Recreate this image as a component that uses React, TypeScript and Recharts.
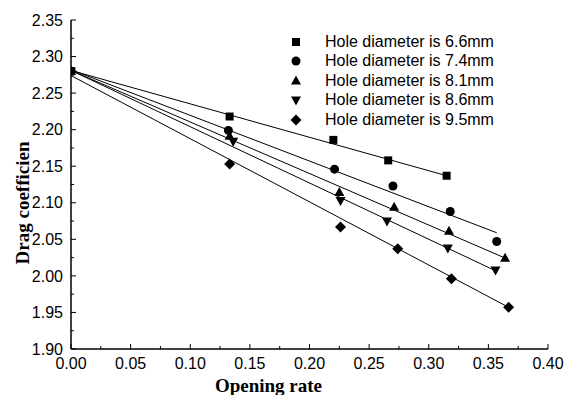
import { ComposedChart, Scatter, XAxis, YAxis, Legend } from 'recharts';

// opening rate / drag coefficient
const rate66 = [0, 0.133, 0.220, 0.266, 0.315];
const drag66 = [2.280, 2.218, 2.186, 2.158, 2.137];
const rate74 = [0, 0.132, 0.221, 0.270, 0.318, 0.357];
const drag74 = [2.280, 2.199, 2.146, 2.123, 2.088, 2.047];
const rate81 = [0, 0.133, 0.225, 0.271, 0.317, 0.364];
const drag81 = [2.280, 2.191, 2.114, 2.094, 2.061, 2.024];
const rate86 = [0, 0.136, 0.226, 0.265, 0.316, 0.356];
const drag86 = [2.280, 2.184, 2.103, 2.075, 2.038, 2.008];
const rate95 = [0, 0.133, 0.226, 0.274, 0.319, 0.367];
const drag95 = [2.280, 2.153, 2.067, 2.037, 1.996, 1.957];

// fitted lines: [start, end]
const fitRate66 = [0, 0.315];
const fitDrag66 = [2.281, 2.137];
const fitRate74 = [0, 0.357];
const fitDrag74 = [2.282, 2.059];
const fitRate81 = [0, 0.366];
const fitDrag81 = [2.281, 2.023];
const fitRate86 = [0, 0.356];
const fitDrag86 = [2.281, 2.007];
const fitRate95 = [0, 0.367];
const fitDrag95 = [2.274, 1.957];

const labels = [
  'Hole diameter is 6.6mm',
  'Hole diameter is 7.4mm',
  'Hole diameter is 8.1mm',
  'Hole diameter is 8.6mm',
  'Hole diameter is 9.5mm',
];

const xTicks = [0, 0.025, 0.05, 0.075, 0.1, 0.125, 0.15, 0.175, 0.2, 0.225, 0.25, 0.275, 0.3, 0.325, 0.35, 0.375, 0.4];
const yTicks = [1.9, 1.925, 1.95, 1.975, 2.0, 2.025, 2.05, 2.075, 2.1, 2.125, 2.15, 2.175, 2.2, 2.225, 2.25, 2.275, 2.3, 2.325, 2.35];

const toPoints = (xs: number[], ys: number[]) => xs.map((x, i) => ({ x, y: ys[i] }));

const series = [
  { kind: 'square', pts: toPoints(rate66, drag66), fit: toPoints(fitRate66, fitDrag66) },
  { kind: 'circle', pts: toPoints(rate74, drag74), fit: toPoints(fitRate74, fitDrag74) },
  { kind: 'up', pts: toPoints(rate81, drag81), fit: toPoints(fitRate81, fitDrag81) },
  { kind: 'down', pts: toPoints(rate86, drag86), fit: toPoints(fitRate86, fitDrag86) },
  { kind: 'diamond', pts: toPoints(rate95, drag95), fit: toPoints(fitRate95, fitDrag95) },
];

const tickFont = '"Liberation Sans", Arial, sans-serif';
const titleFont = '"Liberation Serif", "Times New Roman", serif';

const isMajor = (v: number) => Math.round(v * 1000) % 50 === 0;

function Marker({ cx, cy, kind }: any) {
  if (cx == null || cy == null) return <g />;
  switch (kind) {
    case 'square':
      return <rect x={cx - 4} y={cy - 4} width={8} height={8} fill="#000" />;
    case 'circle':
      return <circle cx={cx} cy={cy} r={4.5} fill="#000" />;
    case 'up':
      return <polygon points={`${cx},${cy - 5.5} ${cx + 5},${cy + 3.5} ${cx - 5},${cy + 3.5}`} fill="#000" />;
    case 'down':
      return <polygon points={`${cx},${cy + 5.5} ${cx + 5},${cy - 3.5} ${cx - 5},${cy - 3.5}`} fill="#000" />;
    default:
      return <polygon points={`${cx},${cy - 5.5} ${cx + 5.5},${cy} ${cx},${cy + 5.5} ${cx - 5.5},${cy}`} fill="#000" />;
  }
}

const BottomTick = (props: any) => {
  const { x, y, payload } = props;
  const v = payload.value;
  const axisY = y - 9;
  return (
    <g>
      <line x1={x} y1={axisY} x2={x} y2={axisY - (isMajor(v) ? 5 : 3)} stroke="#000" />
      {isMajor(v) && (
        <text x={x} y={y} dy="0.71em" textAnchor="middle" fontSize={16} fontFamily={tickFont} fill="#000">
          {v.toFixed(2)}
        </text>
      )}
    </g>
  );
};

const TopTick = (props: any) => {
  const { x, y, payload } = props;
  return <line x1={x} y1={y} x2={x} y2={y + (isMajor(payload.value) ? 5 : 3)} stroke="#000" />;
};

const LeftTick = (props: any) => {
  const { x, y, payload } = props;
  const v = payload.value;
  const axisX = x + 8;
  return (
    <g>
      <line x1={axisX} y1={y} x2={axisX + (isMajor(v) ? 5 : 3)} y2={y} stroke="#000" />
      {isMajor(v) && (
        <text x={x} y={y} dy="0.355em" textAnchor="end" fontSize={16} fontFamily={tickFont} fill="#000">
          {v.toFixed(2)}
        </text>
      )}
    </g>
  );
};

const RightTick = (props: any) => {
  const { x, y, payload } = props;
  return <line x1={x} y1={y} x2={x - (isMajor(payload.value) ? 5 : 3)} y2={y} stroke="#000" />;
};

const LegendBox = () => (
  <div style={{ fontFamily: tickFont, fontSize: 16, color: '#000' }}>
    {series.map((s, i) => (
      <div key={i} style={{ display: 'flex', alignItems: 'center', height: 19.5 }}>
        <svg width={12} height={12} style={{ marginRight: 23 }}>
          <Marker cx={6} cy={6} kind={s.kind} />
        </svg>
        <span>{labels[i]}</span>
      </div>
    ))}
  </div>
);

const axisLine = { stroke: '#000', strokeWidth: 1.5 };

export default function App() {
  return (
    <div style={{ position: 'absolute', left: 0, top: 0, background: '#fff' }}>
      <ComposedChart width={564} height={395} margin={{ top: 20, right: 16, bottom: 0, left: 0 }}>
        <XAxis
          xAxisId="bottom"
          type="number"
          dataKey="x"
          domain={[0, 0.4]}
          ticks={xTicks}
          interval={0}
          allowDataOverflow
          tickSize={0}
          tickMargin={9}
          tickLine={false}
          tick={BottomTick}
          axisLine={axisLine}
          height={46}
          label={{
            content: ({ viewBox }: any) => (
              <text
                x={viewBox.x + viewBox.width / 2 - 41}
                y={viewBox.y + 43}
                textAnchor="middle"
                fontFamily={titleFont}
                fontWeight="bold"
                fontSize={19}
                fill="#000"
              >
                Opening rate
              </text>
            ),
          }}
        />
        <XAxis
          xAxisId="top"
          orientation="top"
          type="number"
          dataKey="x"
          domain={[0, 0.4]}
          ticks={xTicks}
          interval={0}
          allowDataOverflow
          tickSize={0}
          tickMargin={0}
          tickLine={false}
          tick={TopTick}
          axisLine={axisLine}
          height={0}
        />
        <YAxis
          yAxisId="left"
          type="number"
          dataKey="y"
          domain={[1.9, 2.35]}
          ticks={yTicks}
          interval={0}
          allowDataOverflow
          tickSize={0}
          tickMargin={8}
          tickLine={false}
          tick={LeftTick}
          axisLine={axisLine}
          width={71}
          label={{
            content: ({ viewBox }: any) => {
              const lx = viewBox.x + 28.5;
              const ly = viewBox.y + viewBox.height / 2 + 18.5;
              return (
                <text
                  x={lx}
                  y={ly}
                  transform={`rotate(-90 ${lx} ${ly})`}
                  textAnchor="middle"
                  fontFamily={titleFont}
                  fontWeight="bold"
                  fontSize={19}
                  fill="#000"
                >
                  Drag coefficien
                </text>
              );
            },
          }}
        />
        <YAxis
          yAxisId="right"
          orientation="right"
          type="number"
          dataKey="y"
          domain={[1.9, 2.35]}
          ticks={yTicks}
          interval={0}
          allowDataOverflow
          tickSize={0}
          tickMargin={0}
          tickLine={false}
          tick={RightTick}
          axisLine={axisLine}
          width={0}
        />
        {series.map((s, i) => (
          <Scatter
            key={'fit' + i}
            xAxisId="bottom"
            yAxisId="left"
            data={s.fit}
            line={{ stroke: '#000', strokeWidth: 1 }}
            shape={() => <g />}
            legendType="none"
            isAnimationActive={false}
          />
        ))}
        {series.map((s, i) => (
          <Scatter
            key={'pts' + i}
            name={labels[i]}
            xAxisId="bottom"
            yAxisId="left"
            data={s.pts}
            shape={(p: any) => <Marker cx={p.cx} cy={p.cy} kind={s.kind} />}
            isAnimationActive={false}
          />
        ))}
        <Legend
          layout="vertical"
          align="center"
          verticalAlign="middle"
          content={LegendBox}
          wrapperStyle={{ left: 290, top: 32, width: 260 }}
        />
      </ComposedChart>
    </div>
  );
}
